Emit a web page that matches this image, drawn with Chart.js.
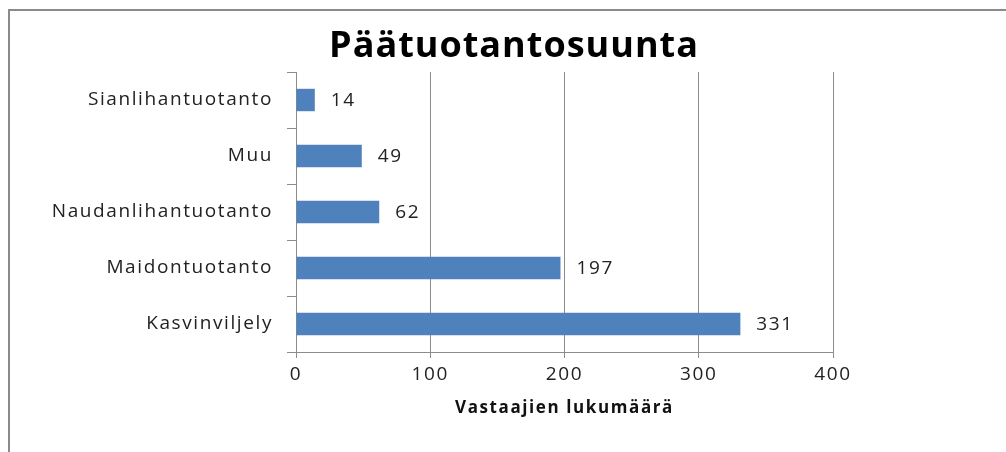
<!DOCTYPE html>
<html>
<head>
<meta charset="utf-8">
<script src="https://cdn.jsdelivr.net/npm/chart.js@4"></script>
<style>
    html, body { margin:0; padding:0; background:#fff; }
    #wrap { position:relative; width:1006px; height:452px; overflow:hidden; }
    #frame { position:absolute; left:8px; top:9px; width:1100px; height:500px; border-top:2px solid #8a8a8a; border-left:2px solid #8a8a8a; }
    canvas { position:absolute; left:0; top:0; }
</style>
</head>
<body>
<div id="wrap">
    <div id="frame"></div>
    <canvas id="mainChart" width="1006" height="452"></canvas>
</div>
<script>
// --- chart data ---
const chartTitle = 'Päätuotantosuunta';
const axisTitle = 'Vastaajien lukumäärä';
const categories = ['Sianlihantuotanto', 'Muu', 'Naudanlihantuotanto', 'Maidontuotanto', 'Kasvinviljely'];
const counts = [14, 49, 62, 197, 331];
const xTicks = [0, 100, 200, 300, 400];

const FONT = '"Open Sans", "DejaVu Sans", sans-serif';

// the original text is rather wide, widen it a bit with letter spacing
const spacingPlugin = {
    id: 'spacing',
    beforeUpdate(chart) { chart.ctx.letterSpacing = '1.6px'; },
    beforeDraw(chart) { chart.ctx.letterSpacing = '1.6px'; }
};

// title + value labels drawn by hand (no datalabels plugin offline)
const extrasPlugin = {
    id: 'extras',
    afterDatasetsDraw(chart) {
        const ctx = chart.ctx;
        const meta = chart.getDatasetMeta(0);
        ctx.save();
        ctx.letterSpacing = '1.6px';
        ctx.font = '19px ' + FONT;
        ctx.fillStyle = '#222';
        ctx.textAlign = 'left';
        ctx.textBaseline = 'middle';
        meta.data.forEach((bar, i) => {
            ctx.fillText(counts[i], bar.x + 16, bar.y + 1);
        });
        ctx.letterSpacing = '1px';
        ctx.font = 'bold 36px ' + FONT;
        ctx.textAlign = 'center';
        ctx.fillStyle = '#000';
        ctx.fillText(chartTitle, 514, 47);
        ctx.restore();
    }
};

new Chart(document.getElementById('mainChart'), {
    type: 'bar',
    data: {
        labels: categories,
        datasets: [{
            data: counts,
            backgroundColor: '#4F81BD',
            borderWidth: 0,
            categoryPercentage: 1,
            barPercentage: 0.4
        }]
    },
    options: {
        indexAxis: 'y',
        responsive: false,
        animation: false,
        layout: { padding: { left: 0, right: 173, top: 72, bottom: 30 } },
        plugins: {
            legend: { display: false },
            tooltip: { enabled: false }
        },
        scales: {
            x: {
                min: 0,
                max: 400,
                afterBuildTicks: s => { s.ticks = xTicks.map(v => ({ value: v })); },
                afterFit: s => { s.height = 70; },
                grid: { color: '#8c8c8c', tickLength: 6, lineWidth: 1 },
                border: { color: '#8c8c8c' },
                ticks: { color: '#222', font: { family: FONT, size: 19 }, padding: 5 },
                title: {
                    display: true,
                    text: axisTitle,
                    color: '#111',
                    font: { family: FONT, size: 17, weight: 'bold' },
                    padding: { top: 4, bottom: 4 }
                }
            },
            y: {
                afterFit: s => { s.width = 296; },
                grid: { drawOnChartArea: false, offset: true, tickLength: 9, color: '#8c8c8c' },
                border: { color: '#8c8c8c' },
                ticks: { color: '#222', font: { family: FONT, size: 19 }, padding: 14 }
            }
        }
    },
    plugins: [spacingPlugin, extrasPlugin]
});
</script>
</body>
</html>
